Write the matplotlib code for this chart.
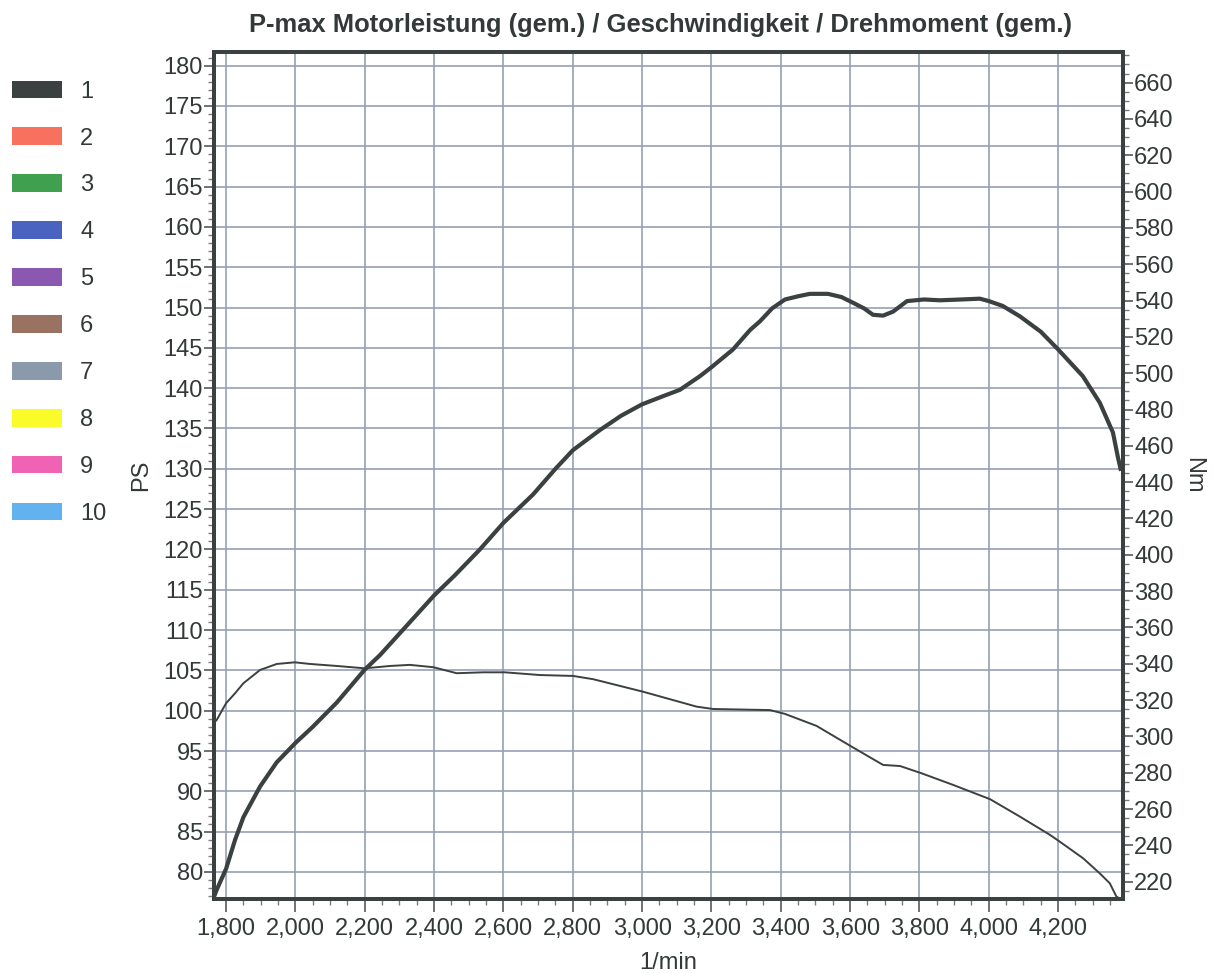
import matplotlib
matplotlib.use("Agg")
import matplotlib.pyplot as plt
from matplotlib.patches import Patch
from matplotlib.ticker import MultipleLocator, FuncFormatter

plt.rcParams['font.family'] = ['Liberation Sans', 'DejaVu Sans']

# Leistung (PS) ueber Drehzahl
rpm_p = [1765, 1773, 1800, 1826, 1850, 1898, 1946, 2000, 2050, 2119, 2200, 2244,
         2320, 2400, 2460, 2532, 2600, 2685, 2750, 2800, 2878, 2940, 3000, 3060,
         3109, 3167, 3200, 3262, 3311, 3340, 3375, 3412, 3450, 3484, 3536, 3575,
         3608, 3640, 3666, 3695, 3724, 3764, 3813, 3859, 3920, 3974, 4000, 4040,
         4090, 4150, 4200, 4271, 4320, 4358, 4372, 4380]
ps = [76.9, 77.8, 80.4, 84.0, 86.8, 90.6, 93.6, 96.0, 98.0, 101.0, 105.1, 106.9,
      110.5, 114.3, 116.8, 120.0, 123.3, 126.8, 130.0, 132.3, 134.8, 136.6, 138.0, 139.0,
      139.8, 141.5, 142.6, 144.8, 147.2, 148.3, 149.9, 151.0, 151.4, 151.7, 151.7, 151.3,
      150.6, 149.9, 149.1, 149.0, 149.5, 150.8, 151.0, 150.9, 151.0, 151.1, 150.8, 150.2,
      148.9, 147.0, 144.8, 141.5, 138.2, 134.5, 131.5, 130.0]

# Drehmoment (Nm) ueber Drehzahl
rpm_t = [1765, 1773, 1800, 1826, 1850, 1898, 1946, 1998, 2042, 2119, 2200, 2273,
         2330, 2398, 2465, 2541, 2604, 2705, 2801, 2859, 3003, 3157, 3205, 3369,
         3412, 3503, 3604, 3695, 3744, 3806, 3897, 4004, 4090, 4177, 4205, 4272,
         4320, 4349, 4368, 4380]
nm = [307.5, 309.1, 318.3, 323.8, 329.3, 336.6, 339.9, 340.8, 339.9, 338.8, 337.5, 338.8,
      339.4, 338.1, 334.8, 335.3, 335.3, 333.8, 333.3, 331.5, 324.6, 316.4, 315.1, 314.5,
      312.4, 305.8, 294.4, 284.3, 283.7, 279.7, 273.3, 265.4, 255.8, 245.7, 242.0, 232.9,
      224.6, 219.1, 211.8, 210.5]

legend_labels = ['1', '2', '3', '4', '5', '6', '7', '8', '9', '10']
legend_colors = ['#3b4040', '#f8705e', '#3fa050', '#4a62c0', '#8a58b0',
                 '#9a7262', '#8a9aaa', '#fbfb2a', '#f062b4', '#62b2f0']

title = 'P-max Motorleistung (gem.) / Geschwindigkeit / Drehmoment (gem.)'

line_col = '#3b4040'
grid_col = '#96a0b4'

fig = plt.figure(figsize=(12.13, 9.73), dpi=100)
ax = fig.add_axes([0.1764, 0.0761, 0.7494, 0.8705])
ax2 = ax.twinx()

ax.set_xlim(1765, 4387)
ax.set_ylim(76.65, 181.7)
ax2.set_ylim(210.5, 676.9)

ax.xaxis.set_major_locator(MultipleLocator(200))
ax.xaxis.set_minor_locator(MultipleLocator(50))
ax.yaxis.set_major_locator(MultipleLocator(5))
ax.yaxis.set_minor_locator(MultipleLocator(1))
ax2.yaxis.set_major_locator(MultipleLocator(20))
ax2.yaxis.set_minor_locator(MultipleLocator(5))
ax.xaxis.set_major_formatter(FuncFormatter(lambda v, p: f'{int(v):,}'))

ax.grid(True, which='major', color=grid_col, linewidth=1.2)
ax.set_axisbelow(True)

ax.plot(rpm_p, ps, color=line_col, linewidth=3.0, zorder=3)
ax2.plot(rpm_t, nm, color=line_col, linewidth=1.4, zorder=3)

for a in (ax, ax2):
    for s in a.spines.values():
        s.set_linewidth(2.8)
        s.set_color(line_col)
    a.tick_params(which='major', length=7, width=1.2, color='#555a5a',
                  labelsize=17, labelcolor='#333838', pad=1)
    a.tick_params(which='minor', length=4, width=1.0, color='#777c7c')
ax.tick_params(axis='x', which='major', length=9, pad=5)

ax.set_xlabel('1/min', fontsize=17, color='#333838', labelpad=8)
ax.set_ylabel('PS', fontsize=17, color='#333838', labelpad=8)
ax2.set_ylabel('Nm', fontsize=17, color='#333838', rotation=-90, labelpad=22)

fig.text(0.5445, 0.974, title, ha='center', va='center', fontsize=18.4,
         fontweight='bold', color='#333838')

handles = [Patch(facecolor=c, edgecolor='none') for c in legend_colors]
fig.legend(handles, legend_labels, loc='upper left', bbox_to_anchor=(-0.008, 0.939),
           frameon=False, fontsize=17, handlelength=2.15, handleheight=0.78,
           labelspacing=1.05, handletextpad=0.75, labelcolor='#333838')

fig.savefig('out.png', dpi=100)
